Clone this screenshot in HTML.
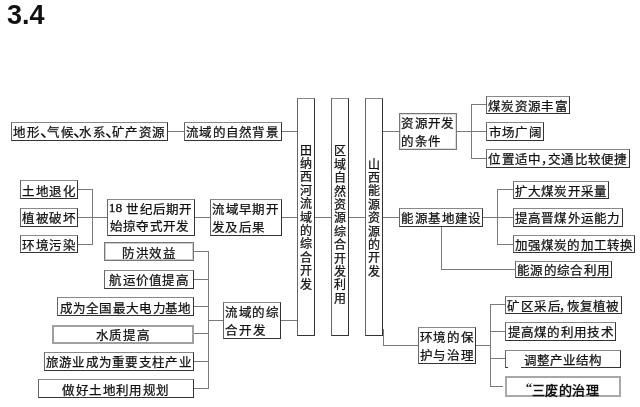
<!DOCTYPE html>
<html lang="zh-CN"><head><meta charset="utf-8"><title>3.4</title>
<style>
html,body{margin:0;padding:0;background:#fff}
body{width:640px;height:407px;position:relative;overflow:hidden;filter:blur(0.3px);font-family:"Liberation Serif",serif;color:#111}
.h{position:absolute;left:7px;top:0px;font-family:"Liberation Sans",sans-serif;font-weight:bold;font-size:27px;line-height:30px;color:#111}
.b{position:absolute;box-sizing:border-box;border:1px solid #333;border-top-color:#888;border-left-color:#666}
.l{position:absolute;background:#7a7a7a}
.w{position:absolute;background:#fff}
.c{position:absolute;display:block;text-align:center;white-space:nowrap;font-weight:500;-webkit-text-stroke:0.25px #111}
.t{position:absolute;display:block;white-space:nowrap}
</style></head><body>
<div class="h">3.4</div>

<div class="l" style="left:167px;top:131px;width:18px;height:1px"></div>
<div class="l" style="left:281px;top:131px;width:17px;height:1px"></div>
<div class="l" style="left:77px;top:189px;width:16px;height:1px"></div>
<div class="l" style="left:77px;top:217px;width:16px;height:1px"></div>
<div class="l" style="left:77px;top:244px;width:16px;height:1px"></div>
<div class="l" style="left:92px;top:189px;width:1px;height:56px"></div>
<div class="l" style="left:92px;top:217px;width:16px;height:1px"></div>
<div class="l" style="left:194px;top:217px;width:17px;height:1px"></div>
<div class="l" style="left:281px;top:217px;width:17px;height:1px"></div>
<div class="l" style="left:208px;top:251px;width:1px;height:138px"></div>
<div class="l" style="left:193px;top:251px;width:16px;height:1px"></div>
<div class="l" style="left:193px;top:279px;width:16px;height:1px"></div>
<div class="l" style="left:193px;top:306px;width:16px;height:1px"></div>
<div class="l" style="left:193px;top:333px;width:16px;height:1px"></div>
<div class="l" style="left:193px;top:361px;width:16px;height:1px"></div>
<div class="l" style="left:193px;top:388px;width:16px;height:1px"></div>
<div class="l" style="left:208px;top:320px;width:16px;height:1px"></div>
<div class="l" style="left:280px;top:320px;width:18px;height:1px"></div>
<div class="l" style="left:314px;top:217px;width:18px;height:1px"></div>
<div class="l" style="left:348px;top:217px;width:18px;height:1px"></div>
<div class="l" style="left:382px;top:131px;width:18px;height:1px"></div>
<div class="l" style="left:456px;top:131px;width:16px;height:1px"></div>
<div class="l" style="left:471px;top:104px;width:1px;height:55px"></div>
<div class="l" style="left:471px;top:104px;width:16px;height:1px"></div>
<div class="l" style="left:471px;top:131px;width:16px;height:1px"></div>
<div class="l" style="left:471px;top:158px;width:16px;height:1px"></div>
<div class="l" style="left:382px;top:217px;width:18px;height:1px"></div>
<div class="l" style="left:482px;top:217px;width:16px;height:1px"></div>
<div class="l" style="left:497px;top:189px;width:1px;height:56px"></div>
<div class="l" style="left:497px;top:189px;width:17px;height:1px"></div>
<div class="l" style="left:497px;top:217px;width:17px;height:1px"></div>
<div class="l" style="left:497px;top:244px;width:17px;height:1px"></div>
<div class="l" style="left:441px;top:226px;width:1px;height:44px"></div>
<div class="l" style="left:441px;top:269px;width:75px;height:1px"></div>
<div class="l" style="left:383px;top:329px;width:1px;height:17px"></div>
<div class="l" style="left:383px;top:345px;width:36px;height:1px"></div>
<div class="l" style="left:475px;top:345px;width:16px;height:1px"></div>
<div class="l" style="left:490px;top:304px;width:1px;height:83px"></div>
<div class="l" style="left:490px;top:304px;width:16px;height:1px"></div>
<div class="l" style="left:490px;top:331px;width:16px;height:1px"></div>
<div class="l" style="left:490px;top:358px;width:16px;height:1px"></div>
<div class="l" style="left:490px;top:386px;width:13px;height:1px"></div>
<div class="b" style="left:11px;top:122px;width:157px;height:19px;"></div>
<div class="b" style="left:184px;top:122px;width:98px;height:19px;"></div>
<div class="b" style="left:20px;top:180px;width:58px;height:19px;"></div>
<div class="b" style="left:20px;top:208px;width:58px;height:19px;"></div>
<div class="b" style="left:20px;top:235px;width:58px;height:18px;"></div>
<div class="b" style="left:107px;top:199px;width:88px;height:37px;"></div>
<div class="b" style="left:210px;top:199px;width:72px;height:37px;"></div>
<div class="b" style="left:104px;top:242px;width:90px;height:19px;border-color:#777;box-shadow:inset 0 0 0 1px #ccc;"></div>
<div class="b" style="left:104px;top:270px;width:90px;height:19px;"></div>
<div class="b" style="left:57px;top:297px;width:137px;height:19px;"></div>
<div class="b" style="left:52px;top:325px;width:142px;height:19px;border:2px solid #a0a0a0;"></div>
<div class="b" style="left:44px;top:352px;width:150px;height:19px;"></div>
<div class="b" style="left:38px;top:379px;width:156px;height:19px;"></div>
<div class="b" style="left:223px;top:302px;width:58px;height:37px;"></div>
<div class="b" style="left:297px;top:98px;width:18px;height:238px;"></div>
<div class="b" style="left:331px;top:98px;width:18px;height:238px;"></div>
<div class="b" style="left:365px;top:98px;width:18px;height:238px;"></div>
<div class="b" style="left:399px;top:113px;width:58px;height:37px;border-color:#777;box-shadow:inset 0 0 0 1px #ddd;"></div>
<div class="b" style="left:486px;top:96px;width:84px;height:18px;"></div>
<div class="b" style="left:486px;top:122px;width:58px;height:19px;"></div>
<div class="b" style="left:486px;top:149px;width:144px;height:19px;"></div>
<div class="b" style="left:399px;top:208px;width:84px;height:19px;"></div>
<div class="b" style="left:513px;top:181px;width:96px;height:18px;"></div>
<div class="b" style="left:513px;top:208px;width:110px;height:19px;"></div>
<div class="b" style="left:513px;top:235px;width:122px;height:18px;"></div>
<div class="b" style="left:515px;top:261px;width:97px;height:17px;"></div>
<div class="b" style="left:418px;top:327px;width:58px;height:37px;"></div>
<div class="b" style="left:505px;top:296px;width:117px;height:18px;"></div>
<div class="b" style="left:505px;top:322px;width:111px;height:19px;"></div>
<div class="b" style="left:505px;top:350px;width:116px;height:18px;"></div>
<div class="b" style="left:505px;top:376px;width:116px;height:21px;border:2px solid #a8a8a8;"></div>
<div class="w" style="left:508px;top:366px;width:13px;height:2px"></div>
<span class="c" style="left:13.20px;top:126.80px;width:12.5px;height:12.5px;line-height:12.5px;font-size:12.5px;">地</span>
<span class="c" style="left:27.30px;top:126.80px;width:12.5px;height:12.5px;line-height:12.5px;font-size:12.5px;">形</span>
<span class="c" style="left:40.10px;top:123.00px;width:17px;height:17px;line-height:17px;font-size:17px;">、</span>
<span class="c" style="left:47.40px;top:126.80px;width:12.5px;height:12.5px;line-height:12.5px;font-size:12.5px;">气</span>
<span class="c" style="left:60.50px;top:126.80px;width:12.5px;height:12.5px;line-height:12.5px;font-size:12.5px;">候</span>
<span class="c" style="left:72.60px;top:123.00px;width:17px;height:17px;line-height:17px;font-size:17px;">、</span>
<span class="c" style="left:79.10px;top:126.80px;width:12.5px;height:12.5px;line-height:12.5px;font-size:12.5px;">水</span>
<span class="c" style="left:93.20px;top:126.80px;width:12.5px;height:12.5px;line-height:12.5px;font-size:12.5px;">系</span>
<span class="c" style="left:105.40px;top:123.00px;width:17px;height:17px;line-height:17px;font-size:17px;">、</span>
<span class="c" style="left:112.30px;top:126.80px;width:12.5px;height:12.5px;line-height:12.5px;font-size:12.5px;">矿</span>
<span class="c" style="left:125.40px;top:126.80px;width:12.5px;height:12.5px;line-height:12.5px;font-size:12.5px;">产</span>
<span class="c" style="left:139.00px;top:126.80px;width:12.5px;height:12.5px;line-height:12.5px;font-size:12.5px;">资</span>
<span class="c" style="left:152.10px;top:126.80px;width:12.5px;height:12.5px;line-height:12.5px;font-size:12.5px;">源</span>
<span class="c" style="left:186.20px;top:126.80px;width:12.5px;height:12.5px;line-height:12.5px;font-size:12.5px;">流</span>
<span class="c" style="left:199.42px;top:126.80px;width:12.5px;height:12.5px;line-height:12.5px;font-size:12.5px;">域</span>
<span class="c" style="left:212.63px;top:126.80px;width:12.5px;height:12.5px;line-height:12.5px;font-size:12.5px;">的</span>
<span class="c" style="left:225.85px;top:126.80px;width:12.5px;height:12.5px;line-height:12.5px;font-size:12.5px;">自</span>
<span class="c" style="left:239.07px;top:126.80px;width:12.5px;height:12.5px;line-height:12.5px;font-size:12.5px;">然</span>
<span class="c" style="left:252.28px;top:126.80px;width:12.5px;height:12.5px;line-height:12.5px;font-size:12.5px;">背</span>
<span class="c" style="left:265.50px;top:126.80px;width:12.5px;height:12.5px;line-height:12.5px;font-size:12.5px;">景</span>
<span class="c" style="left:22.40px;top:185.80px;width:12.5px;height:12.5px;line-height:12.5px;font-size:12.5px;">土</span>
<span class="c" style="left:35.93px;top:185.80px;width:12.5px;height:12.5px;line-height:12.5px;font-size:12.5px;">地</span>
<span class="c" style="left:49.47px;top:185.80px;width:12.5px;height:12.5px;line-height:12.5px;font-size:12.5px;">退</span>
<span class="c" style="left:63.00px;top:185.80px;width:12.5px;height:12.5px;line-height:12.5px;font-size:12.5px;">化</span>
<span class="c" style="left:22.40px;top:213.00px;width:12.5px;height:12.5px;line-height:12.5px;font-size:12.5px;">植</span>
<span class="c" style="left:35.93px;top:213.00px;width:12.5px;height:12.5px;line-height:12.5px;font-size:12.5px;">被</span>
<span class="c" style="left:49.47px;top:213.00px;width:12.5px;height:12.5px;line-height:12.5px;font-size:12.5px;">破</span>
<span class="c" style="left:63.00px;top:213.00px;width:12.5px;height:12.5px;line-height:12.5px;font-size:12.5px;">坏</span>
<span class="c" style="left:22.40px;top:239.50px;width:12.5px;height:12.5px;line-height:12.5px;font-size:12.5px;">环</span>
<span class="c" style="left:35.93px;top:239.50px;width:12.5px;height:12.5px;line-height:12.5px;font-size:12.5px;">境</span>
<span class="c" style="left:49.47px;top:239.50px;width:12.5px;height:12.5px;line-height:12.5px;font-size:12.5px;">污</span>
<span class="c" style="left:63.00px;top:239.50px;width:12.5px;height:12.5px;line-height:12.5px;font-size:12.5px;">染</span>
<span class="c" style="left:126.30px;top:204.20px;width:12.5px;height:12.5px;line-height:12.5px;font-size:12.5px;">世</span>
<span class="c" style="left:139.55px;top:204.20px;width:12.5px;height:12.5px;line-height:12.5px;font-size:12.5px;">纪</span>
<span class="c" style="left:152.80px;top:204.20px;width:12.5px;height:12.5px;line-height:12.5px;font-size:12.5px;">后</span>
<span class="c" style="left:166.05px;top:204.20px;width:12.5px;height:12.5px;line-height:12.5px;font-size:12.5px;">期</span>
<span class="c" style="left:179.30px;top:204.20px;width:12.5px;height:12.5px;line-height:12.5px;font-size:12.5px;">开</span>
<span class="c" style="left:110.00px;top:220.80px;width:12.5px;height:12.5px;line-height:12.5px;font-size:12.5px;">始</span>
<span class="c" style="left:123.18px;top:220.80px;width:12.5px;height:12.5px;line-height:12.5px;font-size:12.5px;">掠</span>
<span class="c" style="left:136.36px;top:220.80px;width:12.5px;height:12.5px;line-height:12.5px;font-size:12.5px;">夺</span>
<span class="c" style="left:149.54px;top:220.80px;width:12.5px;height:12.5px;line-height:12.5px;font-size:12.5px;">式</span>
<span class="c" style="left:162.72px;top:220.80px;width:12.5px;height:12.5px;line-height:12.5px;font-size:12.5px;">开</span>
<span class="c" style="left:175.90px;top:220.80px;width:12.5px;height:12.5px;line-height:12.5px;font-size:12.5px;">发</span>
<span class="c" style="left:212.20px;top:204.40px;width:12.5px;height:12.5px;line-height:12.5px;font-size:12.5px;">流</span>
<span class="c" style="left:225.62px;top:204.40px;width:12.5px;height:12.5px;line-height:12.5px;font-size:12.5px;">域</span>
<span class="c" style="left:239.05px;top:204.40px;width:12.5px;height:12.5px;line-height:12.5px;font-size:12.5px;">早</span>
<span class="c" style="left:252.47px;top:204.40px;width:12.5px;height:12.5px;line-height:12.5px;font-size:12.5px;">期</span>
<span class="c" style="left:265.90px;top:204.40px;width:12.5px;height:12.5px;line-height:12.5px;font-size:12.5px;">开</span>
<span class="c" style="left:212.20px;top:222.00px;width:12.5px;height:12.5px;line-height:12.5px;font-size:12.5px;">发</span>
<span class="c" style="left:225.43px;top:222.00px;width:12.5px;height:12.5px;line-height:12.5px;font-size:12.5px;">及</span>
<span class="c" style="left:238.67px;top:222.00px;width:12.5px;height:12.5px;line-height:12.5px;font-size:12.5px;">后</span>
<span class="c" style="left:251.90px;top:222.00px;width:12.5px;height:12.5px;line-height:12.5px;font-size:12.5px;">果</span>
<span class="c" style="left:122.40px;top:247.80px;width:12.5px;height:12.5px;line-height:12.5px;font-size:12.5px;">防</span>
<span class="c" style="left:135.83px;top:247.80px;width:12.5px;height:12.5px;line-height:12.5px;font-size:12.5px;">洪</span>
<span class="c" style="left:149.27px;top:247.80px;width:12.5px;height:12.5px;line-height:12.5px;font-size:12.5px;">效</span>
<span class="c" style="left:162.70px;top:247.80px;width:12.5px;height:12.5px;line-height:12.5px;font-size:12.5px;">益</span>
<span class="c" style="left:109.20px;top:274.80px;width:12.5px;height:12.5px;line-height:12.5px;font-size:12.5px;">航</span>
<span class="c" style="left:122.50px;top:274.80px;width:12.5px;height:12.5px;line-height:12.5px;font-size:12.5px;">运</span>
<span class="c" style="left:135.80px;top:274.80px;width:12.5px;height:12.5px;line-height:12.5px;font-size:12.5px;">价</span>
<span class="c" style="left:149.10px;top:274.80px;width:12.5px;height:12.5px;line-height:12.5px;font-size:12.5px;">值</span>
<span class="c" style="left:162.40px;top:274.80px;width:12.5px;height:12.5px;line-height:12.5px;font-size:12.5px;">提</span>
<span class="c" style="left:175.70px;top:274.80px;width:12.5px;height:12.5px;line-height:12.5px;font-size:12.5px;">高</span>
<span class="c" style="left:60.00px;top:302.60px;width:12.5px;height:12.5px;line-height:12.5px;font-size:12.5px;">成</span>
<span class="c" style="left:73.10px;top:302.60px;width:12.5px;height:12.5px;line-height:12.5px;font-size:12.5px;">为</span>
<span class="c" style="left:86.30px;top:302.60px;width:12.5px;height:12.5px;line-height:12.5px;font-size:12.5px;">全</span>
<span class="c" style="left:99.40px;top:302.60px;width:12.5px;height:12.5px;line-height:12.5px;font-size:12.5px;">国</span>
<span class="c" style="left:112.50px;top:302.60px;width:12.5px;height:12.5px;line-height:12.5px;font-size:12.5px;">最</span>
<span class="c" style="left:125.60px;top:302.60px;width:12.5px;height:12.5px;line-height:12.5px;font-size:12.5px;">大</span>
<span class="c" style="left:138.80px;top:302.60px;width:12.5px;height:12.5px;line-height:12.5px;font-size:12.5px;">电</span>
<span class="c" style="left:153.00px;top:302.60px;width:12.5px;height:12.5px;line-height:12.5px;font-size:12.5px;">力</span>
<span class="c" style="left:165.00px;top:302.60px;width:12.5px;height:12.5px;line-height:12.5px;font-size:12.5px;">基</span>
<span class="c" style="left:177.60px;top:302.60px;width:12.5px;height:12.5px;line-height:12.5px;font-size:12.5px;">地</span>
<span class="c" style="left:95.50px;top:330.30px;width:12.5px;height:12.5px;line-height:12.5px;font-size:12.5px;">水</span>
<span class="c" style="left:109.17px;top:330.30px;width:12.5px;height:12.5px;line-height:12.5px;font-size:12.5px;">质</span>
<span class="c" style="left:122.83px;top:330.30px;width:12.5px;height:12.5px;line-height:12.5px;font-size:12.5px;">提</span>
<span class="c" style="left:136.50px;top:330.30px;width:12.5px;height:12.5px;line-height:12.5px;font-size:12.5px;">高</span>
<span class="c" style="left:45.90px;top:357.30px;width:12.5px;height:12.5px;line-height:12.5px;font-size:12.5px;">旅</span>
<span class="c" style="left:59.16px;top:357.30px;width:12.5px;height:12.5px;line-height:12.5px;font-size:12.5px;">游</span>
<span class="c" style="left:72.42px;top:357.30px;width:12.5px;height:12.5px;line-height:12.5px;font-size:12.5px;">业</span>
<span class="c" style="left:85.68px;top:357.30px;width:12.5px;height:12.5px;line-height:12.5px;font-size:12.5px;">成</span>
<span class="c" style="left:98.94px;top:357.30px;width:12.5px;height:12.5px;line-height:12.5px;font-size:12.5px;">为</span>
<span class="c" style="left:112.20px;top:357.30px;width:12.5px;height:12.5px;line-height:12.5px;font-size:12.5px;">重</span>
<span class="c" style="left:125.46px;top:357.30px;width:12.5px;height:12.5px;line-height:12.5px;font-size:12.5px;">要</span>
<span class="c" style="left:138.72px;top:357.30px;width:12.5px;height:12.5px;line-height:12.5px;font-size:12.5px;">支</span>
<span class="c" style="left:151.98px;top:357.30px;width:12.5px;height:12.5px;line-height:12.5px;font-size:12.5px;">柱</span>
<span class="c" style="left:165.24px;top:357.30px;width:12.5px;height:12.5px;line-height:12.5px;font-size:12.5px;">产</span>
<span class="c" style="left:178.50px;top:357.30px;width:12.5px;height:12.5px;line-height:12.5px;font-size:12.5px;">业</span>
<span class="c" style="left:62.40px;top:384.60px;width:12.5px;height:12.5px;line-height:12.5px;font-size:12.5px;">做</span>
<span class="c" style="left:75.80px;top:384.60px;width:12.5px;height:12.5px;line-height:12.5px;font-size:12.5px;">好</span>
<span class="c" style="left:89.20px;top:384.60px;width:12.5px;height:12.5px;line-height:12.5px;font-size:12.5px;">土</span>
<span class="c" style="left:102.60px;top:384.60px;width:12.5px;height:12.5px;line-height:12.5px;font-size:12.5px;">地</span>
<span class="c" style="left:116.00px;top:384.60px;width:12.5px;height:12.5px;line-height:12.5px;font-size:12.5px;">利</span>
<span class="c" style="left:129.40px;top:384.60px;width:12.5px;height:12.5px;line-height:12.5px;font-size:12.5px;">用</span>
<span class="c" style="left:142.80px;top:384.60px;width:12.5px;height:12.5px;line-height:12.5px;font-size:12.5px;">规</span>
<span class="c" style="left:156.20px;top:384.60px;width:12.5px;height:12.5px;line-height:12.5px;font-size:12.5px;">划</span>
<span class="c" style="left:225.25px;top:307.00px;width:12.5px;height:12.5px;line-height:12.5px;font-size:12.5px;">流</span>
<span class="c" style="left:238.77px;top:307.00px;width:12.5px;height:12.5px;line-height:12.5px;font-size:12.5px;">域</span>
<span class="c" style="left:252.28px;top:307.00px;width:12.5px;height:12.5px;line-height:12.5px;font-size:12.5px;">的</span>
<span class="c" style="left:265.80px;top:307.00px;width:12.5px;height:12.5px;line-height:12.5px;font-size:12.5px;">综</span>
<span class="c" style="left:225.25px;top:325.40px;width:12.5px;height:12.5px;line-height:12.5px;font-size:12.5px;">合</span>
<span class="c" style="left:238.88px;top:325.40px;width:12.5px;height:12.5px;line-height:12.5px;font-size:12.5px;">开</span>
<span class="c" style="left:252.50px;top:325.40px;width:12.5px;height:12.5px;line-height:12.5px;font-size:12.5px;">发</span>
<span class="c" style="left:299.80px;top:144.60px;width:12px;height:12px;line-height:12px;font-size:12px;">田</span>
<span class="c" style="left:299.80px;top:158.00px;width:12px;height:12px;line-height:12px;font-size:12px;">纳</span>
<span class="c" style="left:299.80px;top:171.40px;width:12px;height:12px;line-height:12px;font-size:12px;">西</span>
<span class="c" style="left:299.80px;top:184.80px;width:12px;height:12px;line-height:12px;font-size:12px;">河</span>
<span class="c" style="left:299.80px;top:198.20px;width:12px;height:12px;line-height:12px;font-size:12px;">流</span>
<span class="c" style="left:299.80px;top:211.60px;width:12px;height:12px;line-height:12px;font-size:12px;">域</span>
<span class="c" style="left:299.80px;top:225.00px;width:12px;height:12px;line-height:12px;font-size:12px;">的</span>
<span class="c" style="left:299.80px;top:238.40px;width:12px;height:12px;line-height:12px;font-size:12px;">综</span>
<span class="c" style="left:299.80px;top:251.80px;width:12px;height:12px;line-height:12px;font-size:12px;">合</span>
<span class="c" style="left:299.80px;top:265.20px;width:12px;height:12px;line-height:12px;font-size:12px;">开</span>
<span class="c" style="left:299.80px;top:278.60px;width:12px;height:12px;line-height:12px;font-size:12px;">发</span>
<span class="c" style="left:333.90px;top:145.40px;width:12px;height:12px;line-height:12px;font-size:12px;">区</span>
<span class="c" style="left:333.90px;top:158.80px;width:12px;height:12px;line-height:12px;font-size:12px;">域</span>
<span class="c" style="left:333.90px;top:172.20px;width:12px;height:12px;line-height:12px;font-size:12px;">自</span>
<span class="c" style="left:333.90px;top:185.60px;width:12px;height:12px;line-height:12px;font-size:12px;">然</span>
<span class="c" style="left:333.90px;top:199.00px;width:12px;height:12px;line-height:12px;font-size:12px;">资</span>
<span class="c" style="left:333.90px;top:212.40px;width:12px;height:12px;line-height:12px;font-size:12px;">源</span>
<span class="c" style="left:333.90px;top:225.80px;width:12px;height:12px;line-height:12px;font-size:12px;">综</span>
<span class="c" style="left:333.90px;top:239.20px;width:12px;height:12px;line-height:12px;font-size:12px;">合</span>
<span class="c" style="left:333.90px;top:252.60px;width:12px;height:12px;line-height:12px;font-size:12px;">开</span>
<span class="c" style="left:333.90px;top:266.00px;width:12px;height:12px;line-height:12px;font-size:12px;">发</span>
<span class="c" style="left:333.90px;top:279.40px;width:12px;height:12px;line-height:12px;font-size:12px;">利</span>
<span class="c" style="left:333.90px;top:292.80px;width:12px;height:12px;line-height:12px;font-size:12px;">用</span>
<span class="c" style="left:367.60px;top:158.50px;width:12px;height:12px;line-height:12px;font-size:12px;">山</span>
<span class="c" style="left:367.60px;top:171.90px;width:12px;height:12px;line-height:12px;font-size:12px;">西</span>
<span class="c" style="left:367.60px;top:185.30px;width:12px;height:12px;line-height:12px;font-size:12px;">能</span>
<span class="c" style="left:367.60px;top:198.70px;width:12px;height:12px;line-height:12px;font-size:12px;">源</span>
<span class="c" style="left:367.60px;top:212.10px;width:12px;height:12px;line-height:12px;font-size:12px;">资</span>
<span class="c" style="left:367.60px;top:225.50px;width:12px;height:12px;line-height:12px;font-size:12px;">源</span>
<span class="c" style="left:367.60px;top:238.90px;width:12px;height:12px;line-height:12px;font-size:12px;">的</span>
<span class="c" style="left:367.60px;top:252.30px;width:12px;height:12px;line-height:12px;font-size:12px;">开</span>
<span class="c" style="left:367.60px;top:265.70px;width:12px;height:12px;line-height:12px;font-size:12px;">发</span>
<span class="c" style="left:401.20px;top:117.50px;width:12.5px;height:12.5px;line-height:12.5px;font-size:12.5px;">资</span>
<span class="c" style="left:414.57px;top:117.50px;width:12.5px;height:12.5px;line-height:12.5px;font-size:12.5px;">源</span>
<span class="c" style="left:427.93px;top:117.50px;width:12.5px;height:12.5px;line-height:12.5px;font-size:12.5px;">开</span>
<span class="c" style="left:441.30px;top:117.50px;width:12.5px;height:12.5px;line-height:12.5px;font-size:12.5px;">发</span>
<span class="c" style="left:401.20px;top:135.90px;width:12.5px;height:12.5px;line-height:12.5px;font-size:12.5px;">的</span>
<span class="c" style="left:414.60px;top:135.90px;width:12.5px;height:12.5px;line-height:12.5px;font-size:12.5px;">条</span>
<span class="c" style="left:428.00px;top:135.90px;width:12.5px;height:12.5px;line-height:12.5px;font-size:12.5px;">件</span>
<span class="c" style="left:488.00px;top:100.50px;width:12.5px;height:12.5px;line-height:12.5px;font-size:12.5px;">煤</span>
<span class="c" style="left:501.34px;top:100.50px;width:12.5px;height:12.5px;line-height:12.5px;font-size:12.5px;">炭</span>
<span class="c" style="left:514.68px;top:100.50px;width:12.5px;height:12.5px;line-height:12.5px;font-size:12.5px;">资</span>
<span class="c" style="left:528.02px;top:100.50px;width:12.5px;height:12.5px;line-height:12.5px;font-size:12.5px;">源</span>
<span class="c" style="left:541.36px;top:100.50px;width:12.5px;height:12.5px;line-height:12.5px;font-size:12.5px;">丰</span>
<span class="c" style="left:554.70px;top:100.50px;width:12.5px;height:12.5px;line-height:12.5px;font-size:12.5px;">富</span>
<span class="c" style="left:488.70px;top:126.80px;width:12.5px;height:12.5px;line-height:12.5px;font-size:12.5px;">市</span>
<span class="c" style="left:502.03px;top:126.80px;width:12.5px;height:12.5px;line-height:12.5px;font-size:12.5px;">场</span>
<span class="c" style="left:515.37px;top:126.80px;width:12.5px;height:12.5px;line-height:12.5px;font-size:12.5px;">广</span>
<span class="c" style="left:528.70px;top:126.80px;width:12.5px;height:12.5px;line-height:12.5px;font-size:12.5px;">阔</span>
<span class="c" style="left:488.00px;top:154.40px;width:12.5px;height:12.5px;line-height:12.5px;font-size:12.5px;">位</span>
<span class="c" style="left:501.60px;top:154.40px;width:12.5px;height:12.5px;line-height:12.5px;font-size:12.5px;">置</span>
<span class="c" style="left:515.00px;top:154.40px;width:12.5px;height:12.5px;line-height:12.5px;font-size:12.5px;">适</span>
<span class="c" style="left:528.40px;top:154.40px;width:12.5px;height:12.5px;line-height:12.5px;font-size:12.5px;">中</span>
<span class="c" style="left:540.90px;top:154.40px;width:12.5px;height:12.5px;line-height:12.5px;font-size:12.5px;">，</span>
<span class="c" style="left:547.80px;top:154.40px;width:12.5px;height:12.5px;line-height:12.5px;font-size:12.5px;">交</span>
<span class="c" style="left:561.40px;top:154.40px;width:12.5px;height:12.5px;line-height:12.5px;font-size:12.5px;">通</span>
<span class="c" style="left:574.80px;top:154.40px;width:12.5px;height:12.5px;line-height:12.5px;font-size:12.5px;">比</span>
<span class="c" style="left:588.20px;top:154.40px;width:12.5px;height:12.5px;line-height:12.5px;font-size:12.5px;">较</span>
<span class="c" style="left:601.20px;top:154.40px;width:12.5px;height:12.5px;line-height:12.5px;font-size:12.5px;">便</span>
<span class="c" style="left:614.40px;top:154.40px;width:12.5px;height:12.5px;line-height:12.5px;font-size:12.5px;">捷</span>
<span class="c" style="left:401.40px;top:212.70px;width:12.5px;height:12.5px;line-height:12.5px;font-size:12.5px;">能</span>
<span class="c" style="left:414.80px;top:212.70px;width:12.5px;height:12.5px;line-height:12.5px;font-size:12.5px;">源</span>
<span class="c" style="left:428.20px;top:212.70px;width:12.5px;height:12.5px;line-height:12.5px;font-size:12.5px;">基</span>
<span class="c" style="left:441.60px;top:212.70px;width:12.5px;height:12.5px;line-height:12.5px;font-size:12.5px;">地</span>
<span class="c" style="left:455.00px;top:212.70px;width:12.5px;height:12.5px;line-height:12.5px;font-size:12.5px;">建</span>
<span class="c" style="left:468.40px;top:212.70px;width:12.5px;height:12.5px;line-height:12.5px;font-size:12.5px;">设</span>
<span class="c" style="left:514.50px;top:185.70px;width:12.5px;height:12.5px;line-height:12.5px;font-size:12.5px;">扩</span>
<span class="c" style="left:527.80px;top:185.70px;width:12.5px;height:12.5px;line-height:12.5px;font-size:12.5px;">大</span>
<span class="c" style="left:541.10px;top:185.70px;width:12.5px;height:12.5px;line-height:12.5px;font-size:12.5px;">煤</span>
<span class="c" style="left:554.40px;top:185.70px;width:12.5px;height:12.5px;line-height:12.5px;font-size:12.5px;">炭</span>
<span class="c" style="left:567.70px;top:185.70px;width:12.5px;height:12.5px;line-height:12.5px;font-size:12.5px;">开</span>
<span class="c" style="left:581.00px;top:185.70px;width:12.5px;height:12.5px;line-height:12.5px;font-size:12.5px;">采</span>
<span class="c" style="left:594.30px;top:185.70px;width:12.5px;height:12.5px;line-height:12.5px;font-size:12.5px;">量</span>
<span class="c" style="left:514.50px;top:212.70px;width:12.5px;height:12.5px;line-height:12.5px;font-size:12.5px;">提</span>
<span class="c" style="left:527.77px;top:212.70px;width:12.5px;height:12.5px;line-height:12.5px;font-size:12.5px;">高</span>
<span class="c" style="left:541.04px;top:212.70px;width:12.5px;height:12.5px;line-height:12.5px;font-size:12.5px;">晋</span>
<span class="c" style="left:554.31px;top:212.70px;width:12.5px;height:12.5px;line-height:12.5px;font-size:12.5px;">煤</span>
<span class="c" style="left:567.59px;top:212.70px;width:12.5px;height:12.5px;line-height:12.5px;font-size:12.5px;">外</span>
<span class="c" style="left:580.86px;top:212.70px;width:12.5px;height:12.5px;line-height:12.5px;font-size:12.5px;">运</span>
<span class="c" style="left:594.13px;top:212.70px;width:12.5px;height:12.5px;line-height:12.5px;font-size:12.5px;">能</span>
<span class="c" style="left:607.40px;top:212.70px;width:12.5px;height:12.5px;line-height:12.5px;font-size:12.5px;">力</span>
<span class="c" style="left:514.50px;top:239.70px;width:12.5px;height:12.5px;line-height:12.5px;font-size:12.5px;">加</span>
<span class="c" style="left:527.70px;top:239.70px;width:12.5px;height:12.5px;line-height:12.5px;font-size:12.5px;">强</span>
<span class="c" style="left:540.90px;top:239.70px;width:12.5px;height:12.5px;line-height:12.5px;font-size:12.5px;">煤</span>
<span class="c" style="left:554.10px;top:239.70px;width:12.5px;height:12.5px;line-height:12.5px;font-size:12.5px;">炭</span>
<span class="c" style="left:567.30px;top:239.70px;width:12.5px;height:12.5px;line-height:12.5px;font-size:12.5px;">的</span>
<span class="c" style="left:580.50px;top:239.70px;width:12.5px;height:12.5px;line-height:12.5px;font-size:12.5px;">加</span>
<span class="c" style="left:593.70px;top:239.70px;width:12.5px;height:12.5px;line-height:12.5px;font-size:12.5px;">工</span>
<span class="c" style="left:606.90px;top:239.70px;width:12.5px;height:12.5px;line-height:12.5px;font-size:12.5px;">转</span>
<span class="c" style="left:620.10px;top:239.70px;width:12.5px;height:12.5px;line-height:12.5px;font-size:12.5px;">换</span>
<span class="c" style="left:517.10px;top:264.60px;width:12.5px;height:12.5px;line-height:12.5px;font-size:12.5px;">能</span>
<span class="c" style="left:530.40px;top:264.60px;width:12.5px;height:12.5px;line-height:12.5px;font-size:12.5px;">源</span>
<span class="c" style="left:543.70px;top:264.60px;width:12.5px;height:12.5px;line-height:12.5px;font-size:12.5px;">的</span>
<span class="c" style="left:557.00px;top:264.60px;width:12.5px;height:12.5px;line-height:12.5px;font-size:12.5px;">综</span>
<span class="c" style="left:570.30px;top:264.60px;width:12.5px;height:12.5px;line-height:12.5px;font-size:12.5px;">合</span>
<span class="c" style="left:583.60px;top:264.60px;width:12.5px;height:12.5px;line-height:12.5px;font-size:12.5px;">利</span>
<span class="c" style="left:596.90px;top:264.60px;width:12.5px;height:12.5px;line-height:12.5px;font-size:12.5px;">用</span>
<span class="c" style="left:419.60px;top:331.80px;width:12.5px;height:12.5px;line-height:12.5px;font-size:12.5px;">环</span>
<span class="c" style="left:433.33px;top:331.80px;width:12.5px;height:12.5px;line-height:12.5px;font-size:12.5px;">境</span>
<span class="c" style="left:447.07px;top:331.80px;width:12.5px;height:12.5px;line-height:12.5px;font-size:12.5px;">的</span>
<span class="c" style="left:460.80px;top:331.80px;width:12.5px;height:12.5px;line-height:12.5px;font-size:12.5px;">保</span>
<span class="c" style="left:419.60px;top:349.70px;width:12.5px;height:12.5px;line-height:12.5px;font-size:12.5px;">护</span>
<span class="c" style="left:433.33px;top:349.70px;width:12.5px;height:12.5px;line-height:12.5px;font-size:12.5px;">与</span>
<span class="c" style="left:447.07px;top:349.70px;width:12.5px;height:12.5px;line-height:12.5px;font-size:12.5px;">治</span>
<span class="c" style="left:460.80px;top:349.70px;width:12.5px;height:12.5px;line-height:12.5px;font-size:12.5px;">理</span>
<span class="c" style="left:507.30px;top:300.50px;width:12.5px;height:12.5px;line-height:12.5px;font-size:12.5px;">矿</span>
<span class="c" style="left:520.60px;top:300.50px;width:12.5px;height:12.5px;line-height:12.5px;font-size:12.5px;">区</span>
<span class="c" style="left:534.30px;top:300.50px;width:12.5px;height:12.5px;line-height:12.5px;font-size:12.5px;">采</span>
<span class="c" style="left:548.00px;top:300.50px;width:12.5px;height:12.5px;line-height:12.5px;font-size:12.5px;">后</span>
<span class="c" style="left:558.50px;top:300.50px;width:12.5px;height:12.5px;line-height:12.5px;font-size:12.5px;">，</span>
<span class="c" style="left:566.50px;top:300.50px;width:12.5px;height:12.5px;line-height:12.5px;font-size:12.5px;">恢</span>
<span class="c" style="left:579.80px;top:300.50px;width:12.5px;height:12.5px;line-height:12.5px;font-size:12.5px;">复</span>
<span class="c" style="left:593.10px;top:300.50px;width:12.5px;height:12.5px;line-height:12.5px;font-size:12.5px;">植</span>
<span class="c" style="left:606.40px;top:300.50px;width:12.5px;height:12.5px;line-height:12.5px;font-size:12.5px;">被</span>
<span class="c" style="left:507.50px;top:326.90px;width:12.5px;height:12.5px;line-height:12.5px;font-size:12.5px;">提</span>
<span class="c" style="left:520.80px;top:326.90px;width:12.5px;height:12.5px;line-height:12.5px;font-size:12.5px;">高</span>
<span class="c" style="left:534.10px;top:326.90px;width:12.5px;height:12.5px;line-height:12.5px;font-size:12.5px;">煤</span>
<span class="c" style="left:547.40px;top:326.90px;width:12.5px;height:12.5px;line-height:12.5px;font-size:12.5px;">的</span>
<span class="c" style="left:560.70px;top:326.90px;width:12.5px;height:12.5px;line-height:12.5px;font-size:12.5px;">利</span>
<span class="c" style="left:574.00px;top:326.90px;width:12.5px;height:12.5px;line-height:12.5px;font-size:12.5px;">用</span>
<span class="c" style="left:587.30px;top:326.90px;width:12.5px;height:12.5px;line-height:12.5px;font-size:12.5px;">技</span>
<span class="c" style="left:600.60px;top:326.90px;width:12.5px;height:12.5px;line-height:12.5px;font-size:12.5px;">术</span>
<span class="c" style="left:524.40px;top:355.00px;width:12.5px;height:12.5px;line-height:12.5px;font-size:12.5px;">调</span>
<span class="c" style="left:537.32px;top:355.00px;width:12.5px;height:12.5px;line-height:12.5px;font-size:12.5px;">整</span>
<span class="c" style="left:550.24px;top:355.00px;width:12.5px;height:12.5px;line-height:12.5px;font-size:12.5px;">产</span>
<span class="c" style="left:563.16px;top:355.00px;width:12.5px;height:12.5px;line-height:12.5px;font-size:12.5px;">业</span>
<span class="c" style="left:576.08px;top:355.00px;width:12.5px;height:12.5px;line-height:12.5px;font-size:12.5px;">结</span>
<span class="c" style="left:589.00px;top:355.00px;width:12.5px;height:12.5px;line-height:12.5px;font-size:12.5px;">构</span>
<span class="c" style="left:522.50px;top:381.10px;width:13px;height:13px;line-height:13px;font-size:13px;font-weight:bold;-webkit-text-stroke:0;">“</span>
<span class="c" style="left:531.50px;top:383.60px;width:13px;height:13px;line-height:13px;font-size:13px;font-weight:bold;-webkit-text-stroke:0;">三</span>
<span class="c" style="left:545.00px;top:383.60px;width:13px;height:13px;line-height:13px;font-size:13px;font-weight:bold;-webkit-text-stroke:0;">废</span>
<span class="c" style="left:558.50px;top:383.60px;width:13px;height:13px;line-height:13px;font-size:13px;font-weight:bold;-webkit-text-stroke:0;">的</span>
<span class="c" style="left:572.00px;top:383.60px;width:13px;height:13px;line-height:13px;font-size:13px;font-weight:bold;-webkit-text-stroke:0;">治</span>
<span class="c" style="left:585.50px;top:383.60px;width:13px;height:13px;line-height:13px;font-size:13px;font-weight:bold;-webkit-text-stroke:0;">理</span>
<span class="t" style="left:108.70px;top:201.20px;line-height:13.5px;font-size:13.5px;-webkit-text-stroke:0.3px #111;">18</span>
</body></html>
